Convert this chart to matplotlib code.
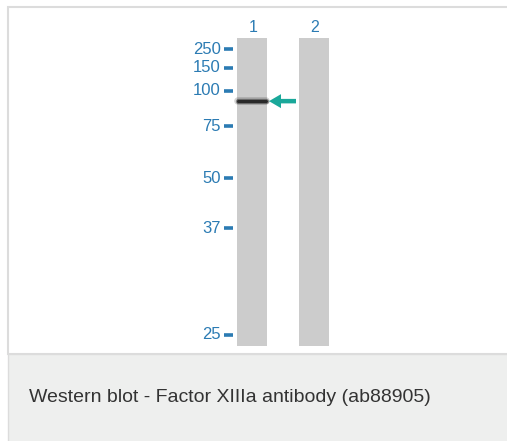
import matplotlib
matplotlib.use('Agg')
import matplotlib.pyplot as plt
from matplotlib.patches import Rectangle, FancyArrow

# marker ladder (kDa) and migration in the lane (fraction of lane length)
marker_kda = [250, 150, 100, 75, 50, 37, 25]
marker_rf = [0.036, 0.097, 0.172, 0.286, 0.455, 0.617, 0.964]
lanes = ['1', '2']
band_lane = 0          # band only in lane 1
band_rf = 0.205
caption = 'Western blot - Factor XIIIa antibody (ab88905)'

W, H = 507, 441
fig = plt.figure(figsize=(W / 100, H / 100), dpi=100)
ax = fig.add_axes([0, 0, 1, 1])
ax.set_xlim(0, W)
ax.set_ylim(H, 0)
ax.axis('off')

# frame and caption area
ax.add_patch(Rectangle((8, 7), W, 347, facecolor='white', edgecolor='#dcdcdc', lw=1.5))
ax.add_patch(Rectangle((8, 354), W, 90, facecolor='#eeefee', edgecolor='#dcdcdc', lw=1.0))
ax.text(29, 397, caption, fontsize=14, color='#333333',
        va='center', ha='left', family='Liberation Sans')

lane_top, lane_bot = 38, 346
lane_x = [237, 299]
lane_w = 30

def rf_to_y(rf):
    return lane_top + rf * (lane_bot - lane_top)

blue = '#2b7bb3'
for i, lab in enumerate(lanes):
    ax.add_patch(Rectangle((lane_x[i], lane_top), lane_w, lane_bot - lane_top,
                           facecolor='#cccccc', edgecolor='none'))
    ax.text(lane_x[i] + lane_w / 2 + 1, 28, lab, ha='center', va='center',
            fontsize=11.5, color=blue, family='Liberation Sans')

for kda, rf in zip(marker_kda, marker_rf):
    y = rf_to_y(rf)
    ax.plot([224, 233], [y, y], color=blue, lw=2.6, solid_capstyle='butt')
    ax.text(221, y, str(kda), ha='right', va='center', fontsize=12,
            color=blue, family='Liberation Sans')

# band
by = rf_to_y(band_rf)
bx = lane_x[band_lane]
for lw, a in [(5.5, 0.2), (3.8, 0.45), (2.2, 0.9)]:
    ax.plot([bx + 1, bx + lane_w - 1], [by, by], color='#222222', lw=lw, alpha=a,
            solid_capstyle='round')

# arrow pointing at band
ax.add_patch(FancyArrow(296, by, -27, 0, width=4.5, head_width=14, head_length=12,
                        length_includes_head=True, color='#1aa89a', lw=0))

fig.savefig('out.png', dpi=100)
